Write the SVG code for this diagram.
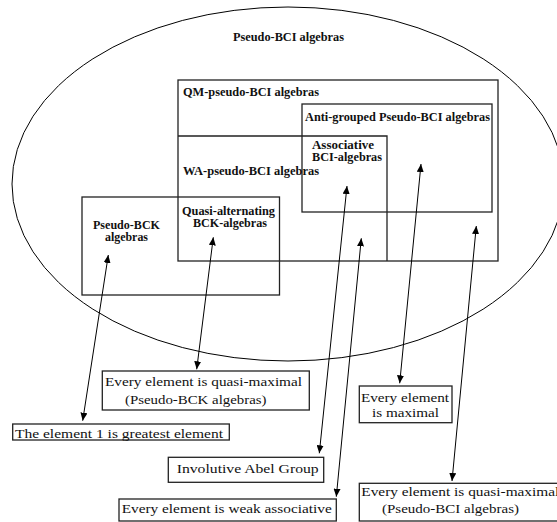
<svg xmlns="http://www.w3.org/2000/svg" width="557" height="522" viewBox="0 0 557 522">
<style>
.box{fill:none;stroke:#222;stroke-width:1.3}
.lb{fill:#fff;stroke:#222;stroke-width:1.3}
.t{font-family:"Liberation Serif","DejaVu Serif",serif;font-weight:bold;font-size:11.5px;fill:#111}
.b{font-family:"Liberation Serif","DejaVu Serif",serif;font-size:13.5px;fill:#111}
.ar{stroke:#000;stroke-width:1;fill:none;marker-start:url(#ah);marker-end:url(#ah)}
</style>
<defs>
<marker id="ah" viewBox="0 0 8 7" refX="8" refY="3.5" markerWidth="8" markerHeight="7" markerUnits="userSpaceOnUse" orient="auto-start-reverse"><path d="M0,0L8,3.5L0,7z" fill="#000"/></marker>
</defs>
<rect width="557" height="522" fill="#fff"/>
<g id="pseudo-bci">
<ellipse cx="288" cy="184" rx="276" ry="177" fill="none" stroke="#000" stroke-width="1"/>
<text class="t" x="233" y="40.5" textLength="111" lengthAdjust="spacingAndGlyphs">Pseudo-BCI algebras</text>
</g>
<g id="qm">
<rect class="box" x="178" y="80" width="320" height="181"/>
<text class="t" x="183" y="96" textLength="136" lengthAdjust="spacingAndGlyphs">QM-pseudo-BCI algebras</text>
</g>
<g id="anti-grouped">
<rect class="box" x="302" y="104" width="190" height="108"/>
<text class="t" x="305" y="120.5" textLength="185" lengthAdjust="spacingAndGlyphs">Anti-grouped Pseudo-BCI algebras</text>
</g>
<g id="wa">
<polyline class="box" points="178,136 387,136 387,261"/>
<text class="t" x="183" y="175" textLength="136" lengthAdjust="spacingAndGlyphs">WA-pseudo-BCI algebras</text>
</g>
<g id="associative">
<text class="t" x="312" y="148.5" textLength="62" lengthAdjust="spacingAndGlyphs">Associative</text>
<text class="t" x="312" y="161" textLength="70" lengthAdjust="spacingAndGlyphs">BCI-algebras</text>
</g>
<g id="pseudo-bck">
<rect class="box" x="82" y="197" width="197.5" height="98"/>
<text class="t" x="93" y="229" textLength="67" lengthAdjust="spacingAndGlyphs">Pseudo-BCK</text>
<text class="t" x="105" y="240.5" textLength="43" lengthAdjust="spacingAndGlyphs">algebras</text>
</g>
<g id="quasi-alternating">
<text class="t" x="182" y="214.5" textLength="93" lengthAdjust="spacingAndGlyphs">Quasi-alternating</text>
<text class="t" x="193" y="226.5" textLength="74" lengthAdjust="spacingAndGlyphs">BCK-algebras</text>
</g>
<g id="connectors">
<line class="ar" x1="108.3" y1="255" x2="82.7" y2="420.7"/>
<line class="ar" x1="213.3" y1="237.3" x2="196.7" y2="369.3"/>
<line class="ar" x1="347" y1="186" x2="319.3" y2="453.3"/>
<line class="ar" x1="361.3" y1="238.3" x2="336.3" y2="496.7"/>
<line class="ar" x1="421" y1="164" x2="399.7" y2="383.3"/>
<line class="ar" x1="476.3" y1="226" x2="452" y2="481"/>
</g>
<g id="quasi-maximal-bck">
<rect class="lb" x="102.3" y="371" width="207" height="39"/>
<text class="b" x="105" y="386" textLength="197" lengthAdjust="spacingAndGlyphs">Every element is quasi-maximal</text>
<text class="b" x="125" y="403.5" textLength="141.5" lengthAdjust="spacingAndGlyphs">(Pseudo-BCK algebras)</text>
</g>
<g id="maximal">
<rect class="lb" x="359.3" y="386" width="92.7" height="36.7"/>
<text class="b" x="361" y="401.7" textLength="88" lengthAdjust="spacingAndGlyphs">Every element</text>
<text class="b" x="372" y="416.7" textLength="67" lengthAdjust="spacingAndGlyphs">is maximal</text>
</g>
<g id="greatest">
<rect class="lb" x="12.7" y="424" width="216.6" height="16"/>
<text class="b" x="15" y="437.5" textLength="208" lengthAdjust="spacingAndGlyphs">The element 1 is greatest element</text>
</g>
<g id="abel">
<rect class="lb" x="168.3" y="457.3" width="155.4" height="25"/>
<text class="b" x="176.7" y="473.3" textLength="142" lengthAdjust="spacingAndGlyphs">Involutive Abel Group</text>
</g>
<g id="weak-associative">
<rect class="lb" x="119" y="499" width="217.3" height="22"/>
<text class="b" x="121.7" y="513.3" textLength="210" lengthAdjust="spacingAndGlyphs">Every element is weak associative</text>
</g>
<g id="quasi-maximal-bci">
<rect class="lb" x="359.3" y="483.3" width="210" height="37.7"/>
<text class="b" x="361.3" y="496" textLength="198" lengthAdjust="spacingAndGlyphs">Every element is quasi-maximal</text>
<text class="b" x="382" y="513.3" textLength="137" lengthAdjust="spacingAndGlyphs">(Pseudo-BCI algebras)</text>
</g>
</svg>
